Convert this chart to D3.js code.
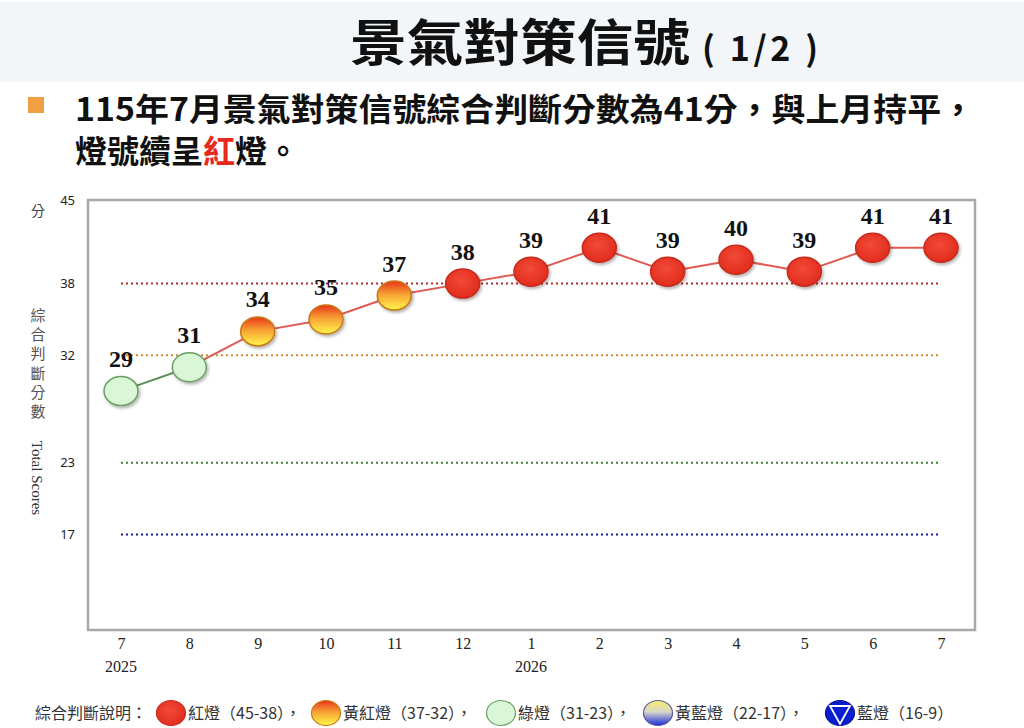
<!DOCTYPE html>
<html lang="zh-Hant">
<head>
<meta charset="UTF-8">
<title>景氣對策信號</title>
<script src="https://d3js.org/d3.v7.min.js"></script>
<style>
  body { margin: 0; background: #fff; }
  .cjk { font-family: "Noto Sans CJK TC", "Noto Sans", sans-serif; }
  .serif { font-family: "Liberation Serif", "DejaVu Serif", serif; }
</style>
</head>
<body>
<script>
// data
var months = ["7", "8", "9", "10", "11", "12", "1", "2", "3", "4", "5", "6", "7"];
var years = ["2025", "", "", "", "", "", "2026", "", "", "", "", "", ""];
var scores = [29, 31, 34, 35, 37, 38, 39, 41, 39, 40, 39, 41, 41];
var yTicks = [45, 38, 32, 23, 17];
var thresholds = [38, 32, 23, 17];
var thresholdColors = ["#b02a2a", "#d08a2a", "#3f7f3a", "#1a1aa0"];
var legendNames = ["紅燈（45-38）", "黃紅燈（37-32）", "綠燈（31-23）", "黃藍燈（22-17）", "藍燈（16-9）"];

var width = 1024, height = 728;

var svg = d3.select("body").append("svg")
    .attr("width", width)
    .attr("height", height);

var defs = svg.append("defs");

var redGrad = defs.append("radialGradient").attr("id", "gRed")
    .attr("cx", "45%").attr("cy", "40%").attr("r", "65%");
redGrad.append("stop").attr("offset", "0%").attr("stop-color", "#f24a36");
redGrad.append("stop").attr("offset", "100%").attr("stop-color", "#e02a1c");

var orGrad = defs.append("linearGradient").attr("id", "gOrange")
    .attr("x1", 0).attr("y1", 0).attr("x2", 0).attr("y2", 1);
orGrad.append("stop").attr("offset", "0%").attr("stop-color", "#e8341a");
orGrad.append("stop").attr("offset", "45%").attr("stop-color", "#f7a034");
orGrad.append("stop").attr("offset", "100%").attr("stop-color", "#fff64a");

var ybGrad = defs.append("linearGradient").attr("id", "gYB")
    .attr("x1", 0).attr("y1", 0).attr("x2", 0).attr("y2", 1);
ybGrad.append("stop").attr("offset", "0%").attr("stop-color", "#f6ee6a");
ybGrad.append("stop").attr("offset", "45%").attr("stop-color", "#d8d8c8");
ybGrad.append("stop").attr("offset", "100%").attr("stop-color", "#1a2ad8");

var shadow = defs.append("filter").attr("id", "shadow")
    .attr("x", "-30%").attr("y", "-30%").attr("width", "160%").attr("height", "160%");
shadow.append("feDropShadow").attr("dx", 1.5).attr("dy", 2).attr("stdDeviation", 1.5)
    .attr("flood-color", "#000").attr("flood-opacity", 0.3);

function light(v) {
  if (v >= 38) return "red";
  if (v >= 32) return "orange";
  if (v >= 23) return "green";
  if (v >= 17) return "yb";
  return "blue";
}
var fills = { red: "url(#gRed)", orange: "url(#gOrange)", green: "#d9f6d6", yb: "url(#gYB)", blue: "#0a1ed0" };
var strokes = { red: "#c82a1c", orange: "#c87818", green: "#6a9e62", yb: "#5a5a9a", blue: "#0a1490" };

// title band
svg.append("rect").attr("x", 0).attr("y", 2).attr("width", width).attr("height", 80)
    .attr("fill", "#f2f6f8");

svg.append("text").attr("class", "cjk")
    .attr("x", 350).attr("y", 61)
    .attr("font-size", 50).attr("font-weight", "bold").attr("fill", "#111")
    .attr("textLength", 340).attr("lengthAdjust", "spacingAndGlyphs")
    .text("景氣對策信號");
svg.append("text").attr("class", "cjk")
    .attr("x", 702).attr("y", 61)
    .attr("font-size", 34).attr("font-weight", "bold").attr("fill", "#111")
    .attr("textLength", 116)
    .text("( 1/2 )");

// subtitle
svg.append("rect").attr("x", 28).attr("y", 97).attr("width", 16).attr("height", 16)
    .attr("fill", "#f0a040");

svg.append("text").attr("class", "cjk")
    .attr("x", 75).attr("y", 121)
    .attr("font-size", 32).attr("font-weight", "bold").attr("fill", "#111")
    .attr("textLength", 900).attr("lengthAdjust", "spacingAndGlyphs")
    .text("115年7月景氣對策信號綜合判斷分數為41分，與上月持平，");

var sub2 = svg.append("text").attr("class", "cjk")
    .attr("x", 75).attr("y", 163)
    .attr("font-size", 32).attr("font-weight", "bold").attr("fill", "#111");
sub2.append("tspan").text("燈號續呈");
sub2.append("tspan").attr("fill", "#e8281c").text("紅");
sub2.append("tspan").text("燈。");

// chart
var x = d3.scalePoint().domain(d3.range(months.length)).range([121, 941]);
var y = d3.scaleLinear().domain([9, 45]).range([630, 200]);

svg.append("rect").attr("x", 88).attr("y", 200).attr("width", 887).attr("height", 430)
    .attr("fill", "#fff").attr("stroke", "#a8a8a8").attr("stroke-width", 2.5);

svg.selectAll(".thr").data(thresholds).enter().append("line")
    .attr("x1", x(0)).attr("x2", x(months.length - 1))
    .attr("y1", function (d) { return y(d); })
    .attr("y2", function (d) { return y(d); })
    .attr("stroke", function (d, i) { return thresholdColors[i]; })
    .attr("stroke-width", 2)
    .attr("stroke-dasharray", "2,3");

// y axis labels
var yAxis = d3.axisLeft(y).tickValues(yTicks).tickSize(0).tickPadding(0);
var yg = svg.append("g").attr("transform", "translate(75,0)").call(yAxis);
yg.select(".domain").remove();
yg.selectAll("text").attr("font-family", "'Noto Sans', sans-serif")
    .attr("font-size", 13).attr("fill", "#222");

svg.append("text").attr("class", "cjk").attr("x", 38).attr("y", 216)
    .attr("text-anchor", "middle").attr("font-size", 14).attr("fill", "#444").text("分");

var yTitle = "綜合判斷分數".split("");
svg.selectAll(".ytc").data(yTitle).enter().append("text").attr("class", "cjk")
    .attr("x", 38).attr("y", function (d, i) { return 321 + i * 19.2; })
    .attr("text-anchor", "middle").attr("font-size", 15).attr("fill", "#555")
    .text(function (d) { return d; });

svg.append("text").attr("class", "serif")
    .attr("transform", "translate(32,478) rotate(90)")
    .attr("text-anchor", "middle").attr("font-size", 15).attr("fill", "#333")
    .text("Total Scores");

// x axis labels
var xAxis = d3.axisBottom(x).tickSize(0).tickPadding(0)
    .tickFormat(function (i) { return months[i]; });
var xg = svg.append("g").attr("transform", "translate(0,638)").call(xAxis);
xg.select(".domain").remove();
xg.selectAll("text").attr("font-family", "'Liberation Serif', serif")
    .attr("font-size", 16).attr("fill", "#222");

svg.selectAll(".yr").data(years).enter().append("text").attr("class", "serif")
    .attr("x", function (d, i) { return x(i); }).attr("y", 672)
    .attr("text-anchor", "middle").attr("font-size", 16).attr("fill", "#222")
    .text(function (d) { return d; });

// connecting line segments
var segs = d3.range(1, scores.length);
svg.selectAll(".seg").data(segs).enter().append("line")
    .attr("x1", function (i) { return x(i - 1); })
    .attr("y1", function (i) { return y(scores[i - 1]); })
    .attr("x2", function (i) { return x(i); })
    .attr("y2", function (i) { return y(scores[i]); })
    .attr("stroke", function (i) { return light(scores[i]) === "green" ? "#5e8e5a" : "#e05a52"; })
    .attr("stroke-width", 2);

// markers
svg.selectAll(".pt").data(scores).enter().append("ellipse")
    .attr("cx", function (d, i) { return x(i); })
    .attr("cy", function (d) { return y(d); })
    .attr("rx", 17).attr("ry", 14.5)
    .attr("fill", function (d) { return fills[light(d)]; })
    .attr("stroke", function (d) { return strokes[light(d)]; })
    .attr("stroke-width", 1.5)
    .attr("filter", "url(#shadow)");

svg.selectAll(".val").data(scores).enter().append("text").attr("class", "serif")
    .attr("x", function (d, i) { return x(i); })
    .attr("y", function (d) { return y(d) - 24; })
    .attr("text-anchor", "middle").attr("font-size", 24).attr("font-weight", "bold")
    .attr("fill", "#111")
    .text(function (d) { return d; });

// legend
var lg = svg.append("g").attr("class", "cjk").attr("font-size", 16).attr("fill", "#333");
lg.append("text").attr("x", 35).attr("y", 719).text("綜合判斷說明：");

var legendKeys = ["red", "orange", "green", "yb", "blue"];
var legendCx = [171, 326, 501, 658, 840];
var item = lg.selectAll(".li").data(legendKeys).enter().append("g")
    .attr("transform", function (d, i) { return "translate(" + legendCx[i] + ",713)"; });
item.append("ellipse").attr("rx", 14.5).attr("ry", 12.5)
    .attr("fill", function (d) { return fills[d]; })
    .attr("stroke", function (d) { return strokes[d]; })
    .attr("stroke-width", 1.2);
item.filter(function (d) { return d === "blue"; }).append("path")
    .attr("d", "M-10,-7 L10,-7 L0,11 Z")
    .attr("fill", "none").attr("stroke", "#fff").attr("stroke-width", 1.8);
item.append("text").attr("x", 17).attr("y", 6)
    .text(function (d, i) { return legendNames[i] + (i < 4 ? "，" : ""); });
</script>
</body>
</html>
